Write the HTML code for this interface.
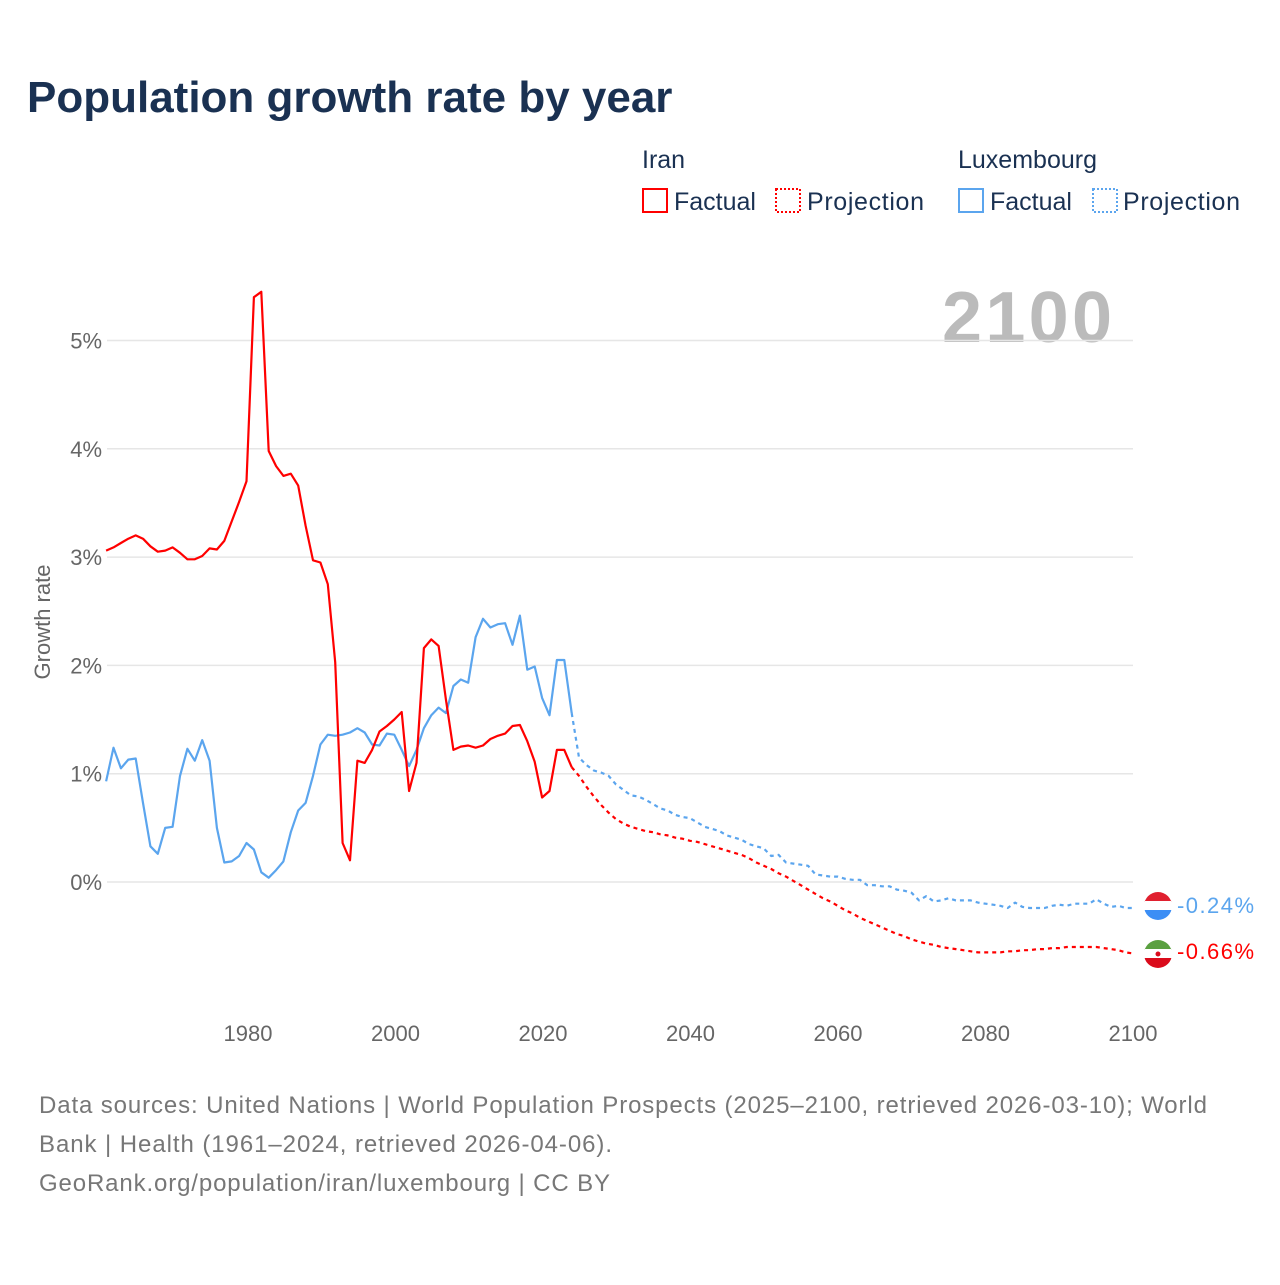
<!DOCTYPE html>
<html><head><meta charset="utf-8"><style>
body{margin:0;background:#fff;font-family:"Liberation Sans",sans-serif}
svg text{font-family:"Liberation Sans",sans-serif}
</style></head><body>
<svg width="1280" height="1280" viewBox="0 0 1280 1280">
<text x="27" y="112" font-size="44" font-weight="bold" fill="#1a3152">Population growth rate by year</text>
<g font-size="25" fill="#1a3152">
<text x="642" y="168">Iran</text>
<text x="958" y="168">Luxembourg</text>
<g><rect x="643" y="189" width="24" height="23" fill="none" stroke="#f00" stroke-width="2"/><text x="674" y="210">Factual</text></g>
<g><rect x="776" y="189" width="24" height="23" fill="none" stroke="#f00" stroke-width="2" stroke-dasharray="2,2"/><text x="807" y="210" textLength="117">Projection</text></g>
<g><rect x="959" y="189" width="24" height="23" fill="none" stroke="#5ba5ee" stroke-width="2"/><text x="990" y="210">Factual</text></g>
<g><rect x="1093" y="189" width="24" height="23" fill="none" stroke="#5ba5ee" stroke-width="2" stroke-dasharray="2,2"/><text x="1123" y="210" textLength="117">Projection</text></g>
</g>
<text x="1112" y="342" font-size="72" font-weight="bold" fill="#bbb" text-anchor="end" textLength="170">2100</text>
<g id="grid"></g>
<g id="yt" font-size="22" fill="#666"></g>
<g id="xt" font-size="22" fill="#666"></g>
<text transform="translate(50,622) rotate(-90)" font-size="22" fill="#666" text-anchor="middle">Growth rate</text>
<g id="lines"></g>
<g>
<g><clipPath id="c1"><circle cx="1158" cy="906" r="14"/></clipPath><g clip-path="url(#c1)"><rect x="1144" y="892" width="28" height="10" fill="#e0202f"/><rect x="1144" y="901" width="28" height="10" fill="#fff"/><rect x="1144" y="910" width="28" height="10" fill="#3c8ef5"/></g></g>
<text x="1177" y="913" font-size="22" fill="#5ba5ee" textLength="77">-0.24%</text>
<g><clipPath id="c2"><circle cx="1158" cy="954" r="14"/></clipPath><g clip-path="url(#c2)"><rect x="1144" y="940" width="28" height="10" fill="#5aa040"/><rect x="1144" y="949" width="28" height="10" fill="#fff"/><rect x="1144" y="958" width="28" height="10" fill="#da0b1b"/><circle cx="1158" cy="954" r="2.5" fill="#da0b1b"/></g></g>
<text x="1177" y="959" font-size="22" fill="#f00" textLength="77">-0.66%</text>
</g>
<g font-size="24" fill="#777">
<text x="39" y="1113" textLength="1168">Data sources: United Nations | World Population Prospects (2025–2100, retrieved 2026-03-10); World</text>
<text x="39" y="1152" textLength="573">Bank | Health (1961–2024, retrieved 2026-04-06).</text>
<text x="39" y="1191" textLength="571">GeoRank.org/population/iran/luxembourg | CC BY</text>
</g>
</svg>
<script>
const xTicks=[1980,2000,2020,2040,2060,2080,2100];
const yTicks=[0,1,2,3,4,5];
const yTickLabels=["0%","1%","2%","3%","4%","5%"];
const iranFactStart=1961;
const iranFactual=[3.06,3.09,3.13,3.17,3.20,3.17,3.10,3.05,3.06,3.09,3.04,2.98,2.98,3.01,3.08,3.07,3.15,3.33,3.51,3.70,5.40,5.45,3.98,3.84,3.75,3.77,3.66,3.29,2.97,2.95,2.75,2.03,0.36,0.20,1.12,1.10,1.22,1.39,1.44,1.50,1.57,0.84,1.10,2.16,2.24,2.18,1.68,1.22,1.25,1.26,1.24,1.26,1.32,1.35,1.37,1.44,1.45,1.30,1.11,0.78,0.84,1.22,1.22,1.06];
const iranProjStart=2024;
const iranProjection=[1.06,0.98,0.88,0.79,0.71,0.64,0.58,0.54,0.51,0.49,0.47,0.46,0.44,0.43,0.41,0.40,0.38,0.37,0.35,0.33,0.31,0.29,0.27,0.25,0.22,0.18,0.15,0.12,0.08,0.05,0.01,-0.03,-0.07,-0.11,-0.15,-0.18,-0.22,-0.26,-0.29,-0.33,-0.36,-0.39,-0.42,-0.45,-0.48,-0.50,-0.53,-0.55,-0.57,-0.58,-0.60,-0.61,-0.62,-0.63,-0.64,-0.65,-0.65,-0.65,-0.65,-0.64,-0.64,-0.63,-0.63,-0.62,-0.62,-0.61,-0.61,-0.60,-0.60,-0.60,-0.60,-0.60,-0.61,-0.62,-0.63,-0.65,-0.66];
const luxFactStart=1961;
const luxFactual=[0.93,1.24,1.05,1.13,1.14,0.73,0.33,0.26,0.50,0.51,0.98,1.23,1.12,1.31,1.12,0.50,0.18,0.19,0.24,0.36,0.30,0.09,0.04,0.11,0.19,0.46,0.66,0.73,0.98,1.27,1.36,1.35,1.36,1.38,1.42,1.38,1.27,1.26,1.37,1.36,1.22,1.07,1.22,1.42,1.54,1.61,1.56,1.81,1.87,1.84,2.26,2.43,2.35,2.38,2.39,2.19,2.46,1.96,1.99,1.70,1.54,2.05,2.05,1.56];
const luxProjStart=2024;
const luxProjection=[1.56,1.15,1.08,1.03,1.01,0.98,0.90,0.85,0.80,0.79,0.76,0.72,0.68,0.66,0.62,0.60,0.59,0.55,0.51,0.49,0.47,0.43,0.41,0.39,0.35,0.33,0.31,0.24,0.25,0.18,0.17,0.16,0.15,0.07,0.06,0.05,0.05,0.03,0.02,0.02,-0.03,-0.03,-0.04,-0.04,-0.07,-0.08,-0.10,-0.17,-0.13,-0.18,-0.17,-0.15,-0.17,-0.17,-0.17,-0.19,-0.20,-0.21,-0.22,-0.24,-0.19,-0.23,-0.24,-0.24,-0.24,-0.22,-0.21,-0.22,-0.20,-0.20,-0.20,-0.16,-0.20,-0.23,-0.22,-0.24,-0.24];
const NS="http://www.w3.org/2000/svg";
const X=y=>246.5+(y-1980)*7.39;
const XT=y=>248+(y-1980)*7.375;
const Y=v=>882-v*108.3;
function mk(t,a,p){const e=document.createElementNS(NS,t);for(const k in a)e.setAttribute(k,a[k]);p.appendChild(e);return e;}
const grid=document.getElementById('grid'),yt=document.getElementById('yt'),xt=document.getElementById('xt'),lines=document.getElementById('lines');
yTicks.forEach((v,i)=>{
 const l=mk('line',{x1:107,x2:1133,y1:Y(v),y2:Y(v),stroke:'#e6e6e6','stroke-width':1.5},grid);
 
 
 const t=mk('text',{x:102,y:Y(v)+8,'text-anchor':'end'},yt);t.textContent=yTickLabels[i];
 
 
});
xTicks.forEach(v=>{
 const t=mk('text',{x:XT(v),y:1041,'text-anchor':'middle'},xt);t.textContent=v;
 
 
});
function line(arr,start,color,dash,name){
 const d=arr.map((v,i)=>(i?'L':'M')+X(start+i).toFixed(1)+','+Y(v).toFixed(1)).join('');
 const p=mk('path',{d:d,fill:'none',stroke:color,'stroke-width':2.2,'stroke-linejoin':'round'},lines);
 if(dash)p.setAttribute('stroke-dasharray',dash);
 
 
}
line(luxFactual,luxFactStart,'#5ba5ee',null,'lux-factual-line');
line(luxProjection,luxProjStart,'#5ba5ee','4,4','lux-projection-line');
line(iranFactual,iranFactStart,'#f00',null,'iran-factual-line');
line(iranProjection,iranProjStart,'#f00','4,4','iran-projection-line');
</script>
</body></html>
